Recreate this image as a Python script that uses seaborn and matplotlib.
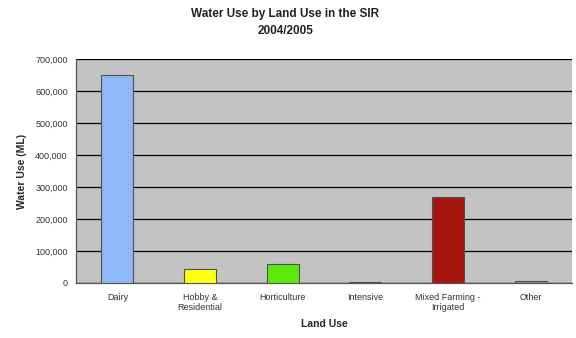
import matplotlib
matplotlib.use("Agg")
import matplotlib.pyplot as plt
import seaborn as sns
import pandas as pd
from matplotlib.ticker import FuncFormatter, FixedLocator

# Data
land_use = ["Dairy", "Hobby &\nResidential", "Horticulture", "Intensive",
            "Mixed Farming -\nIrrigated", "Other"]
water_use = [650000, 42000, 59000, 2500, 268000, 4500]
bar_colors = ["#8FB8F8", "#FFFF10", "#5CE80A", "#9A9A9A", "#A8170F", "#8A8A8A"]

df = pd.DataFrame({"land_use": land_use, "water_use": water_use})

sns.set_theme(style="white")
plt.rcParams['font.family'] = ['Liberation Sans', 'DejaVu Sans']

fig, ax = plt.subplots(figsize=(5.76, 3.38), dpi=100)
fig.subplots_adjust(left=0.132, right=0.993, top=0.825, bottom=0.163)

sns.barplot(data=df, x="land_use", y="water_use", hue="land_use",
            palette=bar_colors, legend=False, width=0.39, saturation=1,
            edgecolor="#505050", linewidth=0.8, ax=ax, zorder=3)

ax.set_facecolor("#C3C3C3")
ax.set_ylim(0, 700000)
ax.set_xlim(-0.5, 5.5)
ax.set_yticks(range(0, 700001, 100000))
ax.yaxis.set_major_formatter(FuncFormatter(lambda v, p: f"{int(v):,}"))
ax.yaxis.grid(True, color="black", linewidth=0.9, zorder=0)
ax.set_axisbelow(True)

# x ticks between categories, labels at centres
ax.xaxis.set_major_locator(FixedLocator([i + 0.5 for i in range(-1, 6)]))
ax.xaxis.set_major_formatter(FuncFormatter(lambda v, p: ""))
ax.xaxis.set_minor_locator(FixedLocator(range(6)))
ax.set_xticklabels(land_use, minor=True)
ax.tick_params(axis="x", which="minor", length=0, labelsize=6.5, pad=7, colors="#333333")
ax.tick_params(axis="x", which="major", direction="out", length=3, width=0.8, color="#444444")
ax.tick_params(axis="y", direction="out", length=3, width=0.8, labelsize=6.5,
               color="#444444", labelcolor="#333333", pad=3)

for side in ["top", "right"]:
    ax.spines[side].set_visible(False)
for side in ["left", "bottom"]:
    ax.spines[side].set_color("#555555")
    ax.spines[side].set_linewidth(0.9)

ax.set_xlabel("Land Use", fontsize=7.5, fontweight="bold", labelpad=5)
ax.set_ylabel("Water Use (ML)", fontsize=7.5, fontweight="bold", labelpad=6)
fig.suptitle("Water Use by Land Use in the SIR\n2004/2005", fontsize=8.5,
             fontweight="bold", x=0.495, y=0.975, color="#222222", linespacing=1.5)

fig.savefig("out.png", dpi=100)
